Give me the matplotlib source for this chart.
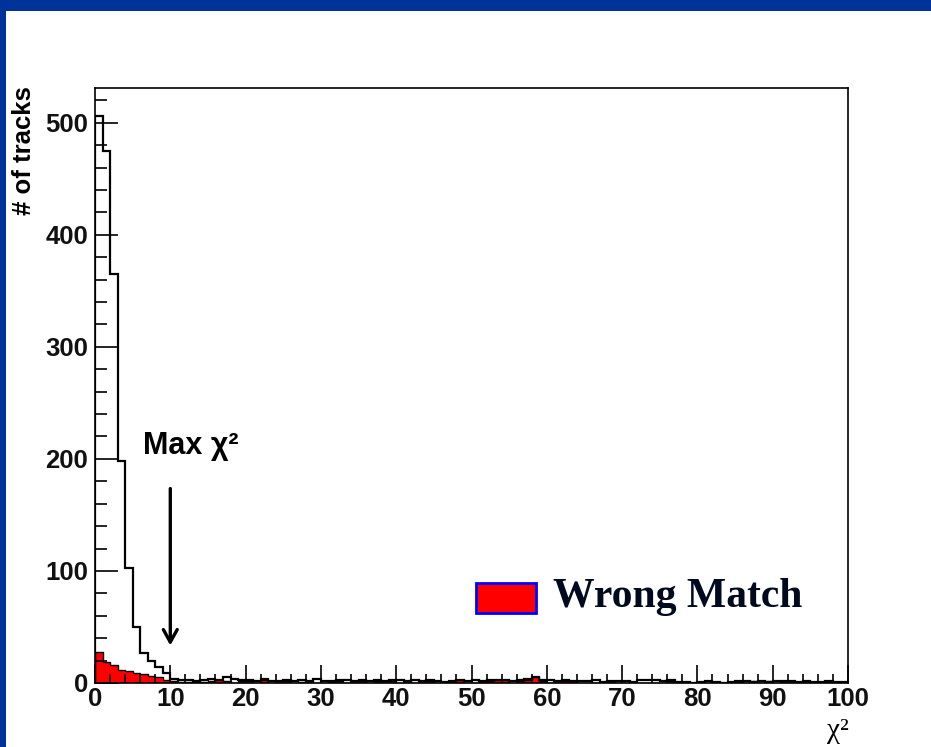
import numpy as np
import matplotlib
matplotlib.use("Agg")
import matplotlib.pyplot as plt
from matplotlib.patches import Rectangle
from matplotlib.ticker import MultipleLocator

# chi2 histogram, 100 bins from 0 to 100
bin_edges = np.linspace(0, 100, 101)

# all tracks (black outline)
all_tracks = [506, 475, 365, 198, 103, 50, 27, 20, 14, 9,
              4, 3, 3, 2, 3, 4, 3, 5, 4, 3,
              3, 2, 4, 2, 2, 3, 2, 3, 2, 4,
              2, 2, 3, 3, 2, 3, 2, 3, 2, 3,
              3, 2, 3, 2, 3, 2, 1, 2, 3, 2,
              3, 2, 3, 3, 3, 2, 3, 4, 5, 3,
              3, 2, 3, 2, 2, 2, 3, 1, 2, 2,
              2, 1, 3, 3, 3, 2, 3, 1, 1, 0,
              1, 2, 1, 0, 1, 2, 2, 1, 2, 1,
              2, 2, 2, 1, 2, 1, 1, 2, 1, 1]

# wrong matches (red fill)
wrong_match = [28, 19, 16, 12, 11, 9, 8, 6, 5, 3,
               2, 1, 1, 2, 1, 2, 3, 2, 0, 2,
               2, 0, 3, 0, 2, 2, 0, 1, 2, 0,
               0, 2, 2, 0, 2, 2, 0, 2, 2, 2,
               0, 2, 0, 2, 2, 0, 0, 2, 3, 0,
               0, 2, 2, 3, 3, 0, 2, 3, 5, 2,
               0, 2, 2, 2, 0, 0, 0, 0, 2, 0,
               0, 0, 0, 0, 0, 0, 2, 0, 0, 0,
               0, 0, 0, 0, 0, 2, 0, 2, 0, 2,
               0, 2, 2, 0, 2, 0, 0, 2, 0, 0]

max_chi2 = 10

fig = plt.figure(figsize=(9.31, 7.47), dpi=100)
fig.patch.set_facecolor("white")

# dark blue slide frame (top and left bars)
fig.patches.append(Rectangle((0, 1 - 11 / 747), 1, 11 / 747, transform=fig.transFigure,
                             facecolor="#003399", edgecolor="none"))
fig.patches.append(Rectangle((0, 0), 6 / 931, 1, transform=fig.transFigure,
                             facecolor="#003399", edgecolor="none"))

ax = fig.add_axes([95 / 931, 1 - 683 / 747, (848 - 95) / 931, (683 - 88) / 747])

ax.stairs(wrong_match, bin_edges, fill=True, facecolor="red", edgecolor="none")
ax.stairs(wrong_match, bin_edges, color="black", linewidth=1.0)
ax.stairs(all_tracks, bin_edges, color="black", linewidth=1.6)

ax.set_xlim(0, 100)
ax.set_ylim(0, 531)

for s in ax.spines.values():
    s.set_linewidth(1.2)

ax.xaxis.set_major_locator(MultipleLocator(10))
ax.xaxis.set_minor_locator(MultipleLocator(2))
ax.yaxis.set_major_locator(MultipleLocator(100))
ax.yaxis.set_minor_locator(MultipleLocator(20))
ax.tick_params(axis="x", which="major", direction="in", length=13, width=1.2, pad=3)
ax.tick_params(axis="x", which="minor", direction="in", length=6.5, width=1.2)
ax.tick_params(axis="y", which="major", direction="in", length=16.5, width=1.2, pad=5)
ax.tick_params(axis="y", which="minor", direction="in", length=8.5, width=1.2)
for lab in ax.get_xticklabels() + ax.get_yticklabels():
    lab.set_fontfamily("Liberation Sans")
    lab.set_fontweight("bold")
    lab.set_fontsize(18.5)
    lab.set_color("#111111")

fig.text(24 / 931, 1 - 86 / 747, "# of tracks", rotation=90, ha="center", va="top",
         fontsize=18.5, fontweight="bold", family="Liberation Sans")
fig.text(838 / 931, 1 - 731 / 747, "χ²", ha="center", va="center",
         fontsize=21, family="Liberation Serif")

# max chi2 marker
ax.annotate("", xy=(max_chi2, 31), xytext=(max_chi2, 176),
            arrowprops=dict(arrowstyle="->,head_length=0.9,head_width=0.5",
                            color="black", lw=2.4))
ax.text(6.4, 198, "Max χ²", ha="left", va="bottom", fontsize=22,
        fontweight="bold", family="Liberation Sans")

# legend
fig.patches.append(Rectangle((476 / 931, 1 - 613 / 747), 60 / 931, 30 / 747,
                             transform=fig.transFigure, facecolor="red",
                             edgecolor="#0000ff", linewidth=2))
fig.text(553 / 931, 1 - 597 / 747, "Wrong Match", ha="left", va="center",
         fontsize=30, fontweight="bold", family="Liberation Serif", color="#000a1e")

fig.savefig("out.png", dpi=100)
